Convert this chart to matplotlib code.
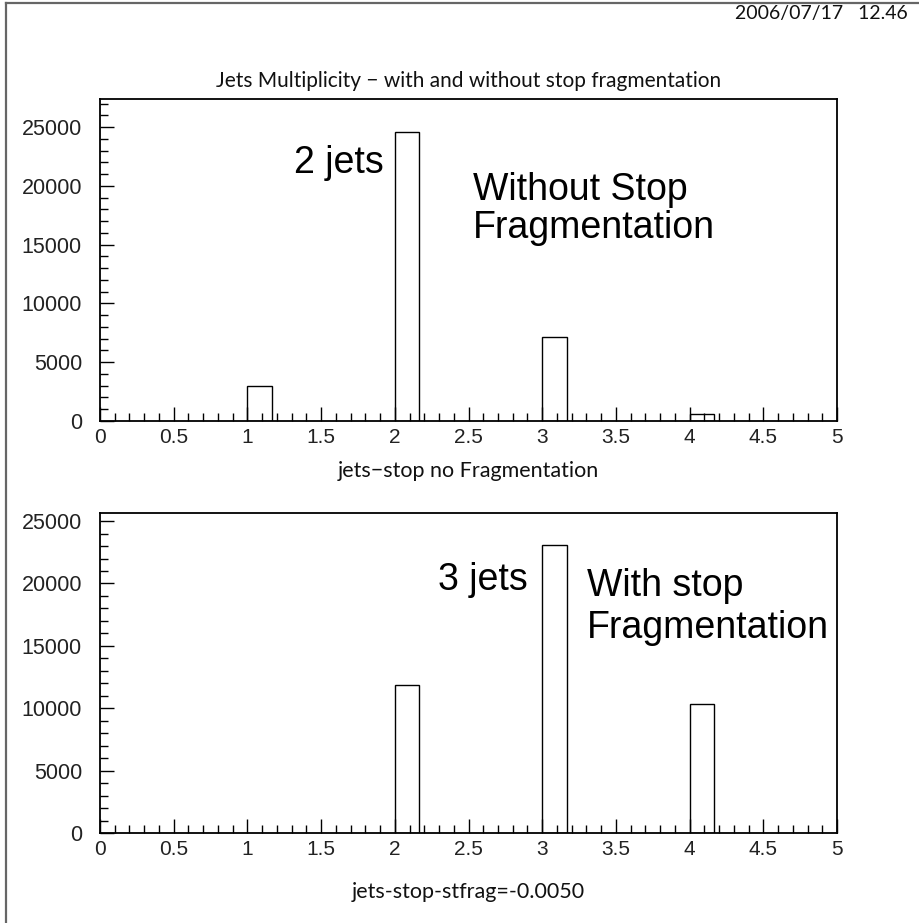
import matplotlib
matplotlib.use("Agg")
import matplotlib.pyplot as plt
from matplotlib.lines import Line2D
from matplotlib.ticker import MultipleLocator

# ---- data ----
bin_width = 5.0 / 30
top_bins = [1.0, 2.0, 3.0, 4.0]
top_counts = [3000, 24630, 7150, 600]
bot_bins = [2.0, 3.0, 4.0]
bot_counts = [11870, 23110, 10330]
x_ticks = [0, 0.5, 1, 1.5, 2, 2.5, 3, 3.5, 4, 4.5, 5]
x_ticklabels = ["0", "0.5", "1", "1.5", "2", "2.5", "3", "3.5", "4", "4.5", "5"]
y_ticks = [0, 5000, 10000, 15000, 20000, 25000]
title = "Jets Multiplicity \u2212 with and without stop fragmentation"
xlabel_top = "jets\u2212stop no Fragmentation"
xlabel_bot = "jets-stop-stfrag=-0.0050"
date_text = "2006/07/17   12.46"

W, H = 919, 923
fig = plt.figure(figsize=(W / 100, H / 100), dpi=100)
fig.patch.set_facecolor("white")

def px_ax(x0, y0, x1, y1):
    return fig.add_axes([x0 / W, 1 - y1 / H, (x1 - x0) / W, (y1 - y0) / H])

thin = dict(family="Lato", fontweight="normal", color="#111111")
num_font = "Liberation Sans"

def style(ax, ytop):
    ax.set_xlim(0, 5)
    ax.set_ylim(0, ytop)
    for s in ["top", "right", "left", "bottom"]:
        ax.spines[s].set_linewidth(1.3)
    ax.set_xticks(x_ticks)
    ax.set_xticklabels(x_ticklabels, fontsize=15, family=num_font)
    ax.xaxis.set_minor_locator(MultipleLocator(0.1))
    ax.set_yticks(y_ticks)
    ax.set_yticklabels([str(v) for v in y_ticks], fontsize=15.5, family=num_font)
    ax.yaxis.set_minor_locator(MultipleLocator(1000))
    ax.tick_params(which="both", direction="in", top=False, right=False, width=1.0)
    ax.tick_params(which="major", length=10)
    ax.tick_params(which="minor", length=5.5)
    ax.tick_params(axis="y", which="major", pad=13)
    ax.tick_params(axis="x", which="major", pad=5)
    for lab in ax.get_xticklabels() + ax.get_yticklabels():
        lab.set_color("#222222")

ax1 = px_ax(100, 99, 837, 421)
ax1.bar(top_bins, top_counts, width=bin_width, align="edge",
        facecolor="white", edgecolor="black", linewidth=1.0)
style(ax1, 27400)

ax2 = px_ax(100, 513, 837, 833)
ax2.bar(bot_bins, bot_counts, width=bin_width, align="edge",
        facecolor="white", edgecolor="black", linewidth=1.0)
style(ax2, 25650)

def ftext(x, y, s, **kw):
    fig.text(x / W, 1 - y / H, s, **kw)

ftext(908, 14, date_text, ha="right", va="center", fontsize=14, **thin)
ftext(469, 81, title, ha="center", va="center", fontsize=15, **thin)
ftext(468, 471, xlabel_top, ha="center", va="center", fontsize=15.5, **thin)
ftext(468, 892, xlabel_bot, ha="center", va="center", fontsize=15.5, **thin)

big = dict(family="Liberation Sans", fontsize=27, va="baseline", color="black")
ftext(384, 173, "2 jets", ha="right", **big)
ftext(473, 200, "Without Stop", ha="left", **big)
ftext(473, 238, "Fragmentation", ha="left", **big)
ftext(528, 590, "3 jets", ha="right", **big)
ftext(587, 596, "With stop", ha="left", **big)
ftext(587, 638, "Fragmentation", ha="left", **big)

# outer frame (left and top)
fig.add_artist(Line2D([6 / W, 6 / W], [0, 1 - 3 / H], color="#666666", linewidth=1.6))
fig.add_artist(Line2D([6 / W, 1], [1 - 3 / H, 1 - 3 / H], color="#666666", linewidth=1.6))

fig.savefig("out.png", dpi=100, facecolor="white")
